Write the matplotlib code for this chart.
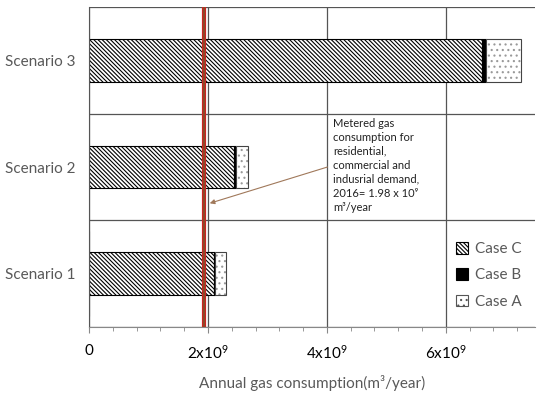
import numpy as np
import matplotlib.pyplot as plt
from matplotlib.ticker import MultipleLocator, FixedLocator

plt.rcParams['font.family'] = ['Lato', 'DejaVu Sans']
plt.rcParams['mathtext.fontset'] = 'custom'
plt.rcParams['mathtext.rm'] = 'Lato'
plt.rcParams['mathtext.default'] = 'rm'
plt.rcParams['hatch.linewidth'] = 0.8

scenarios = ['Scenario 1', 'Scenario 2', 'Scenario 3']
case_c = [2.10e9, 2.44e9, 6.61e9]
case_b = [0.02e9, 0.03e9, 0.06e9]
case_a = [0.19e9, 0.20e9, 0.59e9]
metered = 1.93e9

fig = plt.figure(figsize=(5.5, 3.95), dpi=100)
ax = fig.add_axes([0.1618, 0.1722, 0.811, 0.810])

y = np.arange(len(scenarios))
c = np.array(case_c)
b = np.array(case_b)
a = np.array(case_a)
ax.barh(y, c, height=0.4, color='white', edgecolor='black', hatch='\\\\\\\\\\\\\\\\', lw=0.8, label='Case C')
ax.barh(y, b, left=c, height=0.4, color='black', edgecolor='black', lw=0.8, label='Case B')
# dotted fill in gray, black outline on top
ax.barh(y, a, left=c + b, height=0.4, color='white', edgecolor='#999999', hatch='...', lw=0)
ax.barh(y, a, left=c + b, height=0.4, color='none', edgecolor='#444444', lw=0.8)
ax.barh([0], [0], color='white', edgecolor='#555555', hatch='...', lw=0.8, label='Case A')

ax.set_xlim(0, 7.5e9)
ax.set_ylim(-0.5, 2.5)
ax.xaxis.set_major_locator(FixedLocator([0, 2e9, 4e9, 6e9]))
ax.xaxis.set_minor_locator(MultipleLocator(0.4e9))
ax.set_xticklabels(['0', '2x10$^9$', '4x10$^9$', '6x10$^9$'], fontsize=11)
ax.set_yticks(y)
ax.set_yticklabels(scenarios, fontsize=11, color='#595959')
ax.yaxis.set_minor_locator(FixedLocator([-0.5, 0.5, 1.5, 2.5]))
ax.tick_params(axis='y', which='both', length=0, pad=10)
ax.tick_params(axis='x', which='major', length=4, color='#888888', pad=8)
ax.tick_params(axis='x', which='minor', length=3, color='#888888')

ax.grid(True, axis='x', which='major', color='#555555', lw=0.9)
ax.grid(True, axis='y', which='minor', color='#555555', lw=0.9)
ax.set_axisbelow(True)
for s in ['top', 'right']:
    ax.spines[s].set_visible(False)
ax.spines['left'].set_color('#555555')
ax.spines['bottom'].set_color('#888888')

ax.axvline(metered, color='#D62020', lw=3, zorder=4)
ax.axvline(metered, color='#8B4A2B', lw=1.6, zorder=5)

ax.annotate('Metered gas\nconsumption for\nresidential,\ncommercial and\nindusrial demand,\n2016= 1.98 x 10⁹\nm³/year',
            xy=(2.03e9, 0.66), xytext=(4.1e9, 1.46), fontsize=8, va='top', ha='left',
            linespacing=1.33, color='#222222',
            arrowprops=dict(arrowstyle='-|>', color='#A0785A', lw=0.8, mutation_scale=7,
                            shrinkA=2, shrinkB=0, relpos=(0, 0.5)))

ax.set_xlabel('Annual gas consumption(m³/year)', fontsize=11, color='#595959', va='center')
ax.xaxis.set_label_coords(0.5, -0.175)

ax.legend(loc='lower right', bbox_to_anchor=(1.0, 0.014),
          frameon=False, fontsize=11, handlelength=0.8, handleheight=0.8,
          handletextpad=0.4, labelspacing=0.8, labelcolor='#595959')

plt.savefig('out.png', dpi=100)
